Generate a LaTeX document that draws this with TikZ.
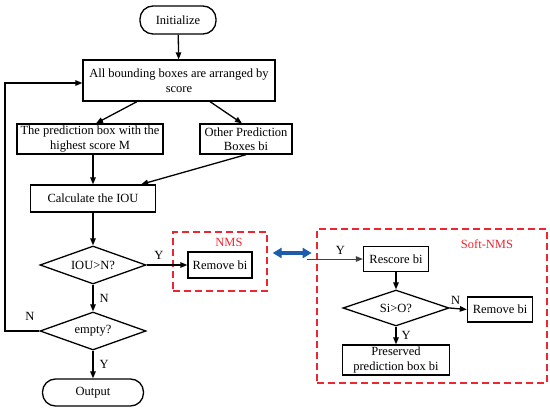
\documentclass[tikz,border=0pt]{standalone}
\usepackage{fontspec}
\setmainfont{Liberation Serif}
\usetikzlibrary{arrows.meta,positioning,calc,shapes.geometric}
\definecolor{nmsred}{RGB}{238,38,48}
\definecolor{swapblue}{RGB}{28,92,170}

\begin{document}
\begin{tikzpicture}[
  x=1pt, y=-1pt,
  every node/.style={font=\fontsize{12.5}{14.5}\selectfont},
  proc/.style={draw=black, line width=1.3pt, align=center, inner sep=1pt},
  term/.style={draw=black, line width=1.3pt, rounded corners=13pt, inner sep=1pt},
  decide/.style={draw=black, line width=1.3pt, diamond, aspect=2.8, inner sep=0pt, minimum width=106pt, minimum height=38pt},
  group/.style={draw=nmsred, line width=1.3pt, dash pattern=on 7pt off 4pt, inner sep=0pt},
  tag/.style={inner sep=0pt},
  arrow/.style={-{Triangle[length=7pt,width=5.5pt]}, line width=1.3pt},
  thinarrow/.style={-{Triangle[length=7pt,width=5.5pt]}, line width=0.9pt, draw=black!75}
]
  \useasboundingbox (0,0) rectangle (550,411);
  % main flow
  \node[term, minimum width=76pt, minimum height=28pt] (init) at (178,20) {Initialize};
  \node[proc, minimum width=192pt, minimum height=41pt] (sort) at (179,80.5) {All bounding boxes are arranged by\\score};
  \node[proc, minimum width=146pt, minimum height=30pt] (best) at (90,139) {The prediction box with the\\highest score M};
  \node[proc, minimum width=92pt, minimum height=30pt] (other) at (246,139) {Other Prediction\\Boxes bi};
  \node[proc, minimum width=125pt, minimum height=27pt] (iou) at (93,198.5) {Calculate the IOU};
  \node[decide] (cmp) at (93,265) {IOU>N?};
  \node[decide] (empty) at (93,331) {empty?};
  \node[term, minimum width=101pt, minimum height=27pt] (output) at (93,392.5) {Output};
  % NMS
  \node[group, minimum width=94pt, minimum height=59pt] (nmsbox) at (220,261.5) {};
  \node[tag, text=nmsred] (nmslabel) at (229,242) {NMS};
  \node[proc, minimum width=64pt, minimum height=26pt] (nmsrm) at (220,265) {Remove bi};
  % Soft-NMS
  \node[group, minimum width=230pt, minimum height=154pt] (softbox) at (432,306) {};
  \node[tag, text=nmsred] (softlabel) at (487,244) {Soft-NMS};
  \node[proc, minimum width=65pt, minimum height=25pt] (rescore) at (396,259) {Rescore bi};
  \node[decide, minimum height=36pt] (sicmp) at (396,308) {Si>O?};
  \node[proc, minimum width=65pt, minimum height=25pt] (softrm) at (500,309.5) {Remove bi};
  \node[proc, minimum width=107pt, minimum height=30pt] (keep) at (396,360) {Preserved\\prediction box bi};

  \draw[arrow] (init) -- (sort);
  \draw[arrow] ($(sort.south)+(-42,0)$) -- ($(best.north)+(6,0)$);
  \draw[arrow] ($(sort.south)+(31,0)$) -- ($(other.north)+(-4,0)$);
  \draw[arrow] (best.south -| iou.north) -- (iou.north);
  \draw[arrow] (other.south) -- ($(iou.north east)+(-15,0)$);
  \draw[arrow] (iou) -- (cmp);
  \draw[arrow] (cmp.east) -- (nmsrm.west) node[tag, pos=0.3, above=5pt] {Y};
  \draw[arrow] (cmp.south) -- (empty.north) node[tag, midway, right=6pt] {N};
  \draw[arrow] (empty.south) -- (output.north) node[tag, midway, right=6pt] {Y};
  \coordinate (loopx) at (5,83);
  \draw[arrow] (empty.west) -| (loopx) -- (loopx -| sort.west);
  \node[tag] (loopn) at (30,316) {N};
  \draw[{Triangle[length=9pt,width=10pt]}-{Triangle[length=9pt,width=10pt]}, line width=3.5pt, swapblue]
    ($(nmsbox.east)+(5,-8.5)$) -- ($(nmsbox.east)+(44,-8.5)$);
  \coordinate (softin) at (307,259);
  \draw[thinarrow] (softin) -- (rescore.west) node[tag, text=black, pos=0.6, above=4pt] {Y};
  \draw[arrow] (rescore) -- (sicmp);
  \draw[arrow] (sicmp.east) -- (softrm.west) node[tag, pos=0.35, above=3pt] {N};
  \draw[arrow] (sicmp.south) -- (keep.north) node[tag, midway, right=5pt] {Y};
\end{tikzpicture}
\end{document}
